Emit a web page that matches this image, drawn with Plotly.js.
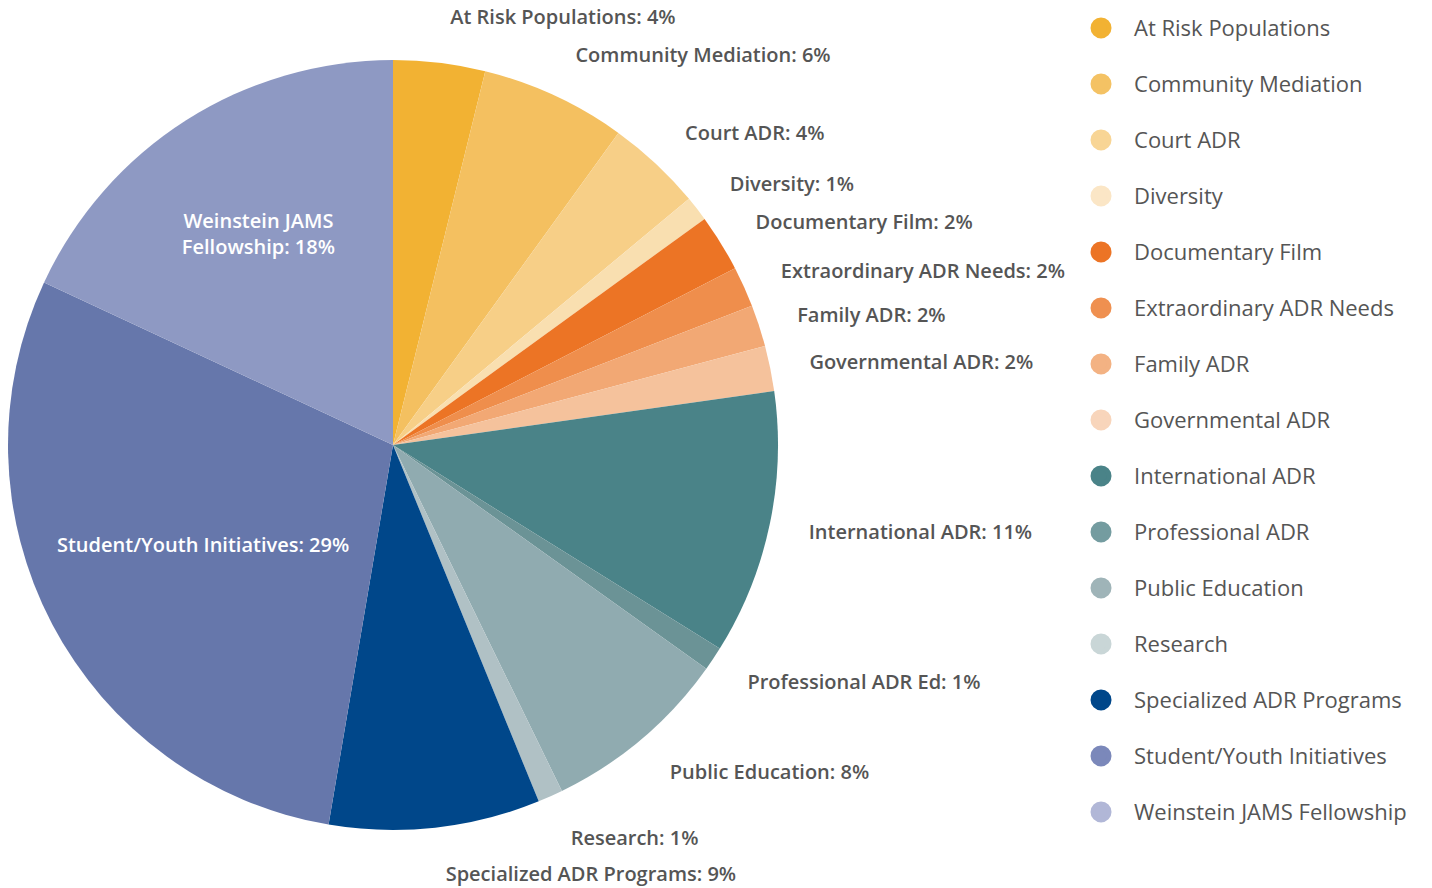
<!DOCTYPE html>
<html>
<head>
<meta charset="utf-8">
<script src="https://cdn.plot.ly/plotly-3.0.1.min.js"></script>
<style>
  html, body { margin: 0; padding: 0; background: #ffffff; overflow: hidden; }
  #chart { width: 1482px; height: 888px; margin-left: -50px; }
</style>
</head>
<body>
<div id="chart"></div>
<script>
// Categories (legend names)
const categories = [
  'At Risk Populations', 'Community Mediation', 'Court ADR', 'Diversity',
  'Documentary Film', 'Extraordinary ADR Needs', 'Family ADR', 'Governmental ADR',
  'International ADR', 'Professional ADR', 'Public Education', 'Research',
  'Specialized ADR Programs', 'Student/Youth Initiatives', 'Weinstein JAMS Fellowship'
];
// Slice label text (as printed on the chart)
const sliceLabels = [
  'At Risk Populations', 'Community Mediation', 'Court ADR', 'Diversity',
  'Documentary Film', 'Extraordinary ADR Needs', 'Family ADR', 'Governmental ADR',
  'International ADR', 'Professional ADR Ed', 'Public Education', 'Research',
  'Specialized ADR Programs', 'Student/Youth Initiatives', 'Weinstein JAMS<br>Fellowship'
];
// Share of funding (percent)
const shares = [3.85, 6.1, 4.0, 1.05, 2.4, 1.7, 1.75, 1.9, 11.1, 1.0, 7.9, 1.05, 8.85, 29.25, 18.05];

// Styling
const sliceColors = [
  '#f2b233', '#f4c060', '#f7cf87', '#f9dfb0', '#ec7425', '#ef8e4c', '#f2a874', '#f5c29c',
  '#4a8388', '#6b9396', '#90abb0', '#b0c1c5', '#00478a', '#6677ab', '#8e99c3'
];
const legendColors = [
  '#f2b233', '#f4c264', '#f8d595', '#fbe6c6', '#ec7425', '#ef9050', '#f3b283', '#f8d5bb',
  '#4a8388', '#749ca0', '#9fb4b8', '#c9d6d7', '#00478a', '#7b88ba', '#b1b7d7'
];
const insideSlices = ['Student/Youth Initiatives', 'Weinstein JAMS Fellowship'];

const FONT = '"Open Sans", Lato, sans-serif';
const GRAY = '#555555';

// Main pie: slices plus the two labels printed inside
const pie = {
  type: 'pie',
  labels: categories,
  values: shares,
  text: sliceLabels,
  texttemplate: '%{text}: %{percent:.0%}',
  textposition: categories.map(c => insideSlices.includes(c) ? 'inside' : 'none'),
  insidetextorientation: 'horizontal',
  sort: false,
  direction: 'clockwise',
  rotation: 0,
  marker: { colors: sliceColors, line: { width: 0 } },
  insidetextfont: { family: FONT, size: 20, color: '#ffffff', weight: 600 },
  domain: { x: [0.03914, 0.55870], y: [0.0653, 0.9324] },
  showlegend: false,
  hoverinfo: 'label+percent'
};

// Same data, transparent and slightly larger, carrying the outside labels
const labelPie = {
  type: 'pie',
  labels: categories,
  values: shares,
  text: sliceLabels,
  texttemplate: '%{text}: %{percent:.0%}',
  textposition: categories.map(c => insideSlices.includes(c) ? 'none' : 'outside'),
  sort: false,
  direction: 'clockwise',
  rotation: 0,
  marker: { colors: categories.map(() => 'rgba(0,0,0,0)'), line: { width: 0 } },
  outsidetextfont: { family: FONT, size: 20, color: GRAY, weight: 600 },
  domain: { x: [0.01687, 0.58097], y: [0.02815, 0.96959] },
  showlegend: false,
  hoverinfo: 'skip'
};

const legendTraces = categories.map((c, i) => ({
  type: 'scatter',
  mode: 'markers',
  x: [null], y: [null],
  name: c,
  legendgroup: 'g' + i,
  marker: { color: legendColors[i], size: 22, symbol: 'circle', line: { color: legendColors[i], width: 6 } },
  showlegend: true,
  hoverinfo: 'skip'
}));

const layout = {
  width: 1482,
  height: 888,
  margin: { l: 0, r: 0, t: 0, b: 0 },
  paper_bgcolor: '#ffffff',
  plot_bgcolor: '#ffffff',
  font: { family: FONT, color: GRAY },
  xaxis: { visible: false, domain: [0.75, 0.76] },
  yaxis: { visible: false, domain: [0.5, 0.51] },
  legend: {
    x: 0.7544, xanchor: 'left',
    y: 0.992, yanchor: 'top',
    traceorder: 'grouped',
    tracegroupgap: 24.4,
    itemwidth: 56,
    font: { family: FONT, size: 22, color: GRAY },
    bgcolor: 'rgba(0,0,0,0)'
  }
};

Plotly.newPlot('chart', [pie, labelPie].concat(legendTraces), layout, { displayModeBar: false, staticPlot: true });
</script>
</body>
</html>
